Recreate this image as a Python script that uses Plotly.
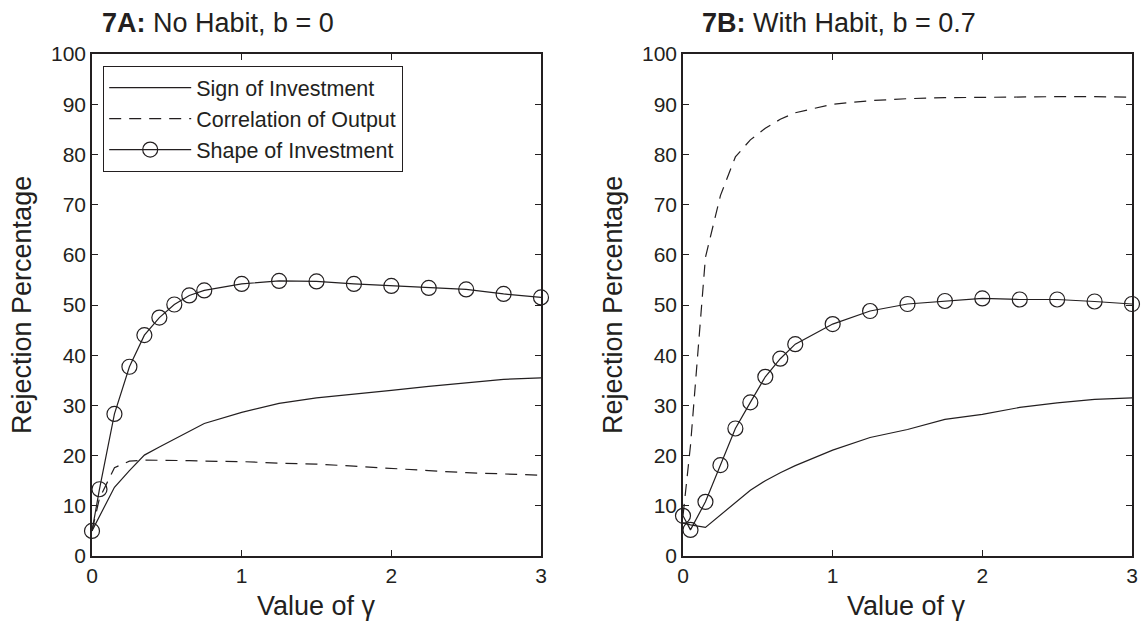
import plotly.graph_objects as go

# ---------------- data ----------------
gamma = [0, 0.05, 0.15, 0.25, 0.35, 0.45, 0.55, 0.65, 0.75,
         1.0, 1.25, 1.5, 1.75, 2.0, 2.25, 2.5, 2.75, 3.0]

# Panel 7A: No Habit, b = 0
a_sign = [5.0, 7.9, 13.7, 17.0, 20.1, 21.7, 23.3, 24.9, 26.4,
          28.6, 30.4, 31.5, 32.2, 33.0, 33.8, 34.5, 35.2, 35.5]
a_corr = [5.0, 11.5, 17.6, 18.9, 19.1, 19.1, 19.0, 19.0, 18.9,
          18.8, 18.5, 18.3, 17.9, 17.4, 17.0, 16.6, 16.4, 16.1]
a_shape = [5.0, 13.3, 28.3, 37.7, 44.0, 47.5, 50.1, 51.9, 52.9,
           54.2, 54.8, 54.7, 54.2, 53.8, 53.4, 53.1, 52.2, 51.5]

# Panel 7B: With Habit, b = 0.7
b_sign = [6.6, 6.2, 5.7, 8.2, 10.7, 13.1, 15.0, 16.6, 18.0,
          21.1, 23.6, 25.2, 27.2, 28.2, 29.6, 30.5, 31.2, 31.5]
b_corr = [8.0, 22.0, 59.5, 71.8, 79.5, 82.9, 85.2, 87.0, 88.3,
          90.0, 90.7, 91.1, 91.3, 91.4, 91.4, 91.5, 91.5, 91.4]
b_shape = [8.0, 5.2, 10.8, 18.1, 25.4, 30.6, 35.7, 39.3, 42.2,
           46.2, 48.8, 50.2, 50.8, 51.3, 51.1, 51.1, 50.7, 50.2]

series_names = ["Sign of Investment", "Correlation of Output", "Shape of Investment"]
titles = ["<b>7A:</b> No Habit, b = 0", "<b>7B:</b> With Habit, b = 0.7"]
x_ticks = [0, 1, 2, 3]
y_ticks = list(range(0, 101, 10))

# ---------------- figure ----------------
W, H = 1142, 629
FONT = "Liberation Sans, Arial, Helvetica, sans-serif"
INK = "#231f20"

fig = go.Figure()

panels = [
    (a_sign, a_corr, a_shape, "x", "y", True),
    (b_sign, b_corr, b_shape, "x2", "y2", False),
]
for sign, corr, shape, xa, ya, show in panels:
    fig.add_trace(go.Scatter(x=gamma, y=sign, mode="lines", name=series_names[0],
                             line=dict(color=INK, width=1.2), xaxis=xa, yaxis=ya,
                             showlegend=show))
    fig.add_trace(go.Scatter(x=gamma, y=corr, mode="lines", name=series_names[1],
                             line=dict(color=INK, width=1.2, dash="12px,8px"),
                             xaxis=xa, yaxis=ya, showlegend=show))
    fig.add_trace(go.Scatter(x=gamma, y=shape, mode="lines+markers", name=series_names[2],
                             line=dict(color=INK, width=1.2),
                             marker=dict(symbol="circle-open", size=15,
                                         color=INK, line=dict(width=1.2, color=INK)),
                             xaxis=xa, yaxis=ya, showlegend=show, cliponaxis=False))

def px_x(p):
    return p / W

def px_y(p):
    return 1 - p / H

ydom = [px_y(556), px_y(54)]
axis_common = dict(
    showline=True, linecolor=INK, linewidth=1.5, mirror="ticks",
    ticks="inside", ticklen=6, tickcolor=INK, tickwidth=1,
    showgrid=False, zeroline=False, automargin=False,
    tickfont=dict(family=FONT, size=21, color=INK),
)
fig.update_layout(
    width=W, height=H,
    margin=dict(l=0, r=0, t=0, b=0, autoexpand=False),
    paper_bgcolor="white", plot_bgcolor="white",
    font=dict(family=FONT, color=INK),
    xaxis=dict(domain=[px_x(92), px_x(541)], range=[0, 3], tickvals=x_ticks,
               anchor="y", **axis_common),
    yaxis=dict(domain=ydom, range=[0, 100], tickvals=y_ticks, anchor="x", **axis_common),
    xaxis2=dict(domain=[px_x(683), px_x(1132)], range=[0, 3], tickvals=x_ticks,
                anchor="y2", **axis_common),
    yaxis2=dict(domain=ydom, range=[0, 100], tickvals=y_ticks, anchor="x2", **axis_common),
    legend=dict(x=px_x(103), y=px_y(66), xanchor="left", yanchor="top",
                bgcolor="white", bordercolor=INK, borderwidth=1.2,
                font=dict(family=FONT, size=21.5, color=INK),
                itemwidth=82, tracegroupgap=0),
    showlegend=True,
)

# titles
for txt, xl in zip(titles, [100, 700]):
    fig.add_annotation(text=txt, x=px_x(xl), y=px_y(23), xref="paper", yref="paper",
                       xanchor="left", yanchor="middle", showarrow=False,
                       font=dict(family=FONT, size=27, color=INK))

# axis titles
for xc in [22, 613]:
    fig.add_annotation(text="Rejection Percentage", x=px_x(xc), y=px_y(305),
                       xref="paper", yref="paper", textangle=-90,
                       xanchor="center", yanchor="middle", showarrow=False,
                       font=dict(family=FONT, size=27, color=INK))
for xc in [316, 907]:
    fig.add_annotation(text="Value of γ", x=px_x(xc), y=px_y(606),
                       xref="paper", yref="paper",
                       xanchor="center", yanchor="middle", showarrow=False,
                       font=dict(family=FONT, size=27, color=INK))

fig.write_html("out.html",
               config={"displayModeBar": False},
               post_script="document.body.style.margin='0px';document.body.style.overflow='hidden';")
